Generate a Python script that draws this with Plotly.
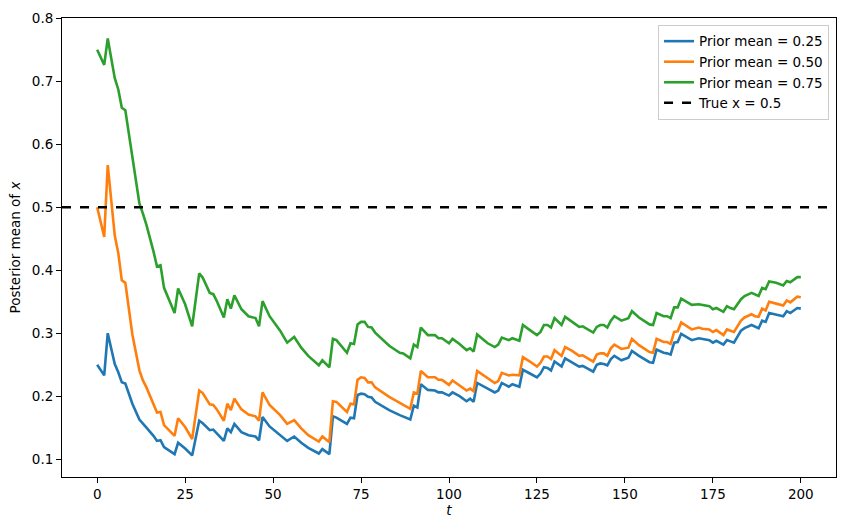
import plotly.graph_objects as go

t = [0, 2, 3, 5, 6, 7, 8, 10, 12, 13, 14, 16, 17, 18, 19, 22, 23, 25, 27, 29, 30, 32, 33, 34, 36, 37, 38, 39,
     41, 43, 45, 46, 47, 49, 52, 54, 56, 58, 60, 63, 64, 66, 67, 68, 71, 72, 73, 74, 75, 76, 77, 78, 79,
     83, 86, 87, 89, 90, 91, 92, 94, 96, 97, 98, 100, 101, 103, 105, 106, 107, 108, 111, 113, 114, 115,
     117, 118, 120, 121, 123, 125, 126, 127, 128, 129, 130, 131, 132, 133, 135, 137, 138, 141, 142, 143,
     144, 145, 146, 147, 149, 151, 152, 154, 157, 158, 159, 161, 162, 163, 164, 165, 166, 169, 171, 172,
     173, 174, 175, 176, 178, 179, 180, 181, 183, 184, 186, 187, 188, 189, 190, 191, 193, 195, 196, 197,
     199, 200]

prior_025 = [0.250, 0.233, 0.300, 0.251, 0.238, 0.222, 0.220, 0.188, 0.163, 0.157, 0.150, 0.137, 0.129, 0.130,
             0.119, 0.108, 0.126, 0.117, 0.106, 0.161, 0.157, 0.146, 0.147, 0.141, 0.129, 0.149, 0.143, 0.156,
             0.143, 0.138, 0.136, 0.130, 0.167, 0.152, 0.139, 0.129, 0.136, 0.126, 0.118, 0.109, 0.116, 0.108,
             0.168, 0.166, 0.156, 0.166, 0.165, 0.202, 0.204, 0.203, 0.199, 0.198, 0.191,
             0.178, 0.170, 0.168, 0.163, 0.185, 0.182, 0.219, 0.210, 0.209, 0.206, 0.206, 0.201, 0.206, 0.200,
             0.192, 0.196, 0.191, 0.221, 0.212, 0.206, 0.209, 0.221,
             0.215, 0.219, 0.215, 0.242, 0.236, 0.230, 0.236, 0.246, 0.245, 0.241, 0.255, 0.251, 0.247, 0.260,
             0.254, 0.247, 0.248, 0.239, 0.250, 0.252,
             0.251, 0.249, 0.259, 0.264, 0.257, 0.261, 0.272, 0.264, 0.254, 0.253, 0.274, 0.269, 0.268, 0.266,
             0.285, 0.286, 0.299, 0.289, 0.292, 0.291,
             0.289, 0.289, 0.285, 0.288, 0.282, 0.289, 0.287, 0.285, 0.304, 0.308, 0.313, 0.310, 0.308, 0.320,
             0.318, 0.332, 0.330, 0.327, 0.335, 0.332,
             0.340, 0.339]

prior_050 = [0.500, 0.453, 0.567, 0.455, 0.427, 0.384, 0.380, 0.298, 0.241, 0.225, 0.214, 0.188, 0.174, 0.175,
             0.154, 0.137, 0.165, 0.151, 0.132, 0.209, 0.205, 0.187, 0.186, 0.179, 0.161, 0.188, 0.178, 0.196,
             0.179, 0.171, 0.168, 0.161, 0.206, 0.186, 0.170, 0.156, 0.162, 0.149, 0.138, 0.128, 0.136, 0.127,
             0.192, 0.191, 0.175, 0.188, 0.187, 0.226, 0.230, 0.229, 0.222, 0.222, 0.214,
             0.199, 0.189, 0.187, 0.180, 0.206, 0.204, 0.240, 0.230, 0.230, 0.226, 0.226, 0.218, 0.225, 0.217,
             0.209, 0.212, 0.208, 0.240, 0.229, 0.221, 0.224, 0.237,
             0.233, 0.234, 0.233, 0.262, 0.255, 0.247, 0.253, 0.263, 0.263, 0.259, 0.273, 0.269, 0.264, 0.278,
             0.272, 0.264, 0.265, 0.255, 0.266, 0.268,
             0.268, 0.264, 0.276, 0.282, 0.275, 0.277, 0.291, 0.281, 0.270, 0.269, 0.291, 0.286, 0.286, 0.283,
             0.302, 0.303, 0.317, 0.306, 0.309, 0.307,
             0.306, 0.306, 0.302, 0.305, 0.297, 0.306, 0.304, 0.302, 0.320, 0.325, 0.330, 0.327, 0.326, 0.339,
             0.336, 0.350, 0.347, 0.344, 0.352, 0.349,
             0.358, 0.357]

prior_075 = [0.750, 0.726, 0.768, 0.705, 0.687, 0.658, 0.654, 0.578, 0.506, 0.490, 0.472, 0.430, 0.406, 0.408,
             0.372, 0.332, 0.371, 0.346, 0.311, 0.395, 0.388, 0.364, 0.362, 0.351, 0.325, 0.354, 0.339, 0.360,
             0.338, 0.327, 0.324, 0.311, 0.351, 0.327, 0.304, 0.285, 0.294, 0.277, 0.264, 0.249, 0.257, 0.246,
             0.291, 0.289, 0.269, 0.284, 0.283, 0.314, 0.318, 0.318, 0.310, 0.309, 0.301,
             0.280, 0.269, 0.268, 0.260, 0.282, 0.278, 0.309, 0.297, 0.297, 0.292, 0.292, 0.284, 0.291, 0.283,
             0.273, 0.276, 0.271, 0.298, 0.284, 0.278, 0.282, 0.293,
             0.289, 0.292, 0.288, 0.313, 0.305, 0.297, 0.302, 0.313, 0.313, 0.309, 0.324, 0.319, 0.313, 0.326,
             0.318, 0.310, 0.311, 0.301, 0.310, 0.313,
             0.313, 0.309, 0.320, 0.327, 0.320, 0.324, 0.335, 0.325, 0.314, 0.313, 0.332, 0.327, 0.327, 0.324,
             0.341, 0.341, 0.355, 0.345, 0.346, 0.345,
             0.343, 0.343, 0.338, 0.340, 0.334, 0.343, 0.340, 0.338, 0.354, 0.359, 0.364, 0.361, 0.359, 0.372,
             0.370, 0.382, 0.380, 0.376, 0.383, 0.381,
             0.389, 0.389]

true_x = 0.5
x_range = [-10, 210]
y_range = [0.0717, 0.8005]
x_ticks = [0, 25, 50, 75, 100, 125, 150, 175, 200]
y_ticks = [0.1, 0.2, 0.3, 0.4, 0.5, 0.6, 0.7, 0.8]

font = "DejaVu Sans"
fig = go.Figure()
series = [("Prior mean = 0.25", prior_025, "#1f77b4"),
          ("Prior mean = 0.50", prior_050, "#ff7f0e"),
          ("Prior mean = 0.75", prior_075, "#2ca02c")]
for name, vals, col in series:
    fig.add_trace(go.Scatter(x=t, y=vals, mode="lines", name=name,
                             line=dict(color=col, width=2.6)))
fig.add_trace(go.Scatter(x=x_range, y=[true_x, true_x], mode="lines", name="True x = 0.5",
                         line=dict(color="black", width=2.6, dash="dash")))

axis_common = dict(showline=True, linecolor="black", linewidth=1, mirror=True,
                   ticks="outside", ticklen=5, tickwidth=1, tickcolor="black",
                   showgrid=False, zeroline=False,
                   tickfont=dict(family=font, size=13.5, color="black"))
fig.update_xaxes(range=x_range, tickvals=x_ticks, ticktext=[str(v) for v in x_ticks],
                 title=dict(text="<i>t</i>", font=dict(family=font, size=13.5, color="black"), standoff=4),
                 **axis_common)
fig.update_yaxes(range=y_range, tickvals=y_ticks, ticktext=[f"{v:.1f}" for v in y_ticks],
                 title=dict(text="Posterior mean of <i>x</i>", font=dict(family=font, size=13.5, color="black"), standoff=8),
                 **axis_common)
fig.update_layout(
    width=847, height=530,
    margin=dict(l=62, r=10, t=15, b=53),
    plot_bgcolor="white", paper_bgcolor="white",
    font=dict(family=font, size=13.5, color="black"),
    legend=dict(x=0.991, y=0.985, xanchor="right", yanchor="top",
                bgcolor="rgba(255,255,255,0.8)", bordercolor="#cccccc", borderwidth=1,
                font=dict(family=font, size=13.5, color="black"), tracegroupgap=0),
    showlegend=True,
)
fig.write_html("out.html")
